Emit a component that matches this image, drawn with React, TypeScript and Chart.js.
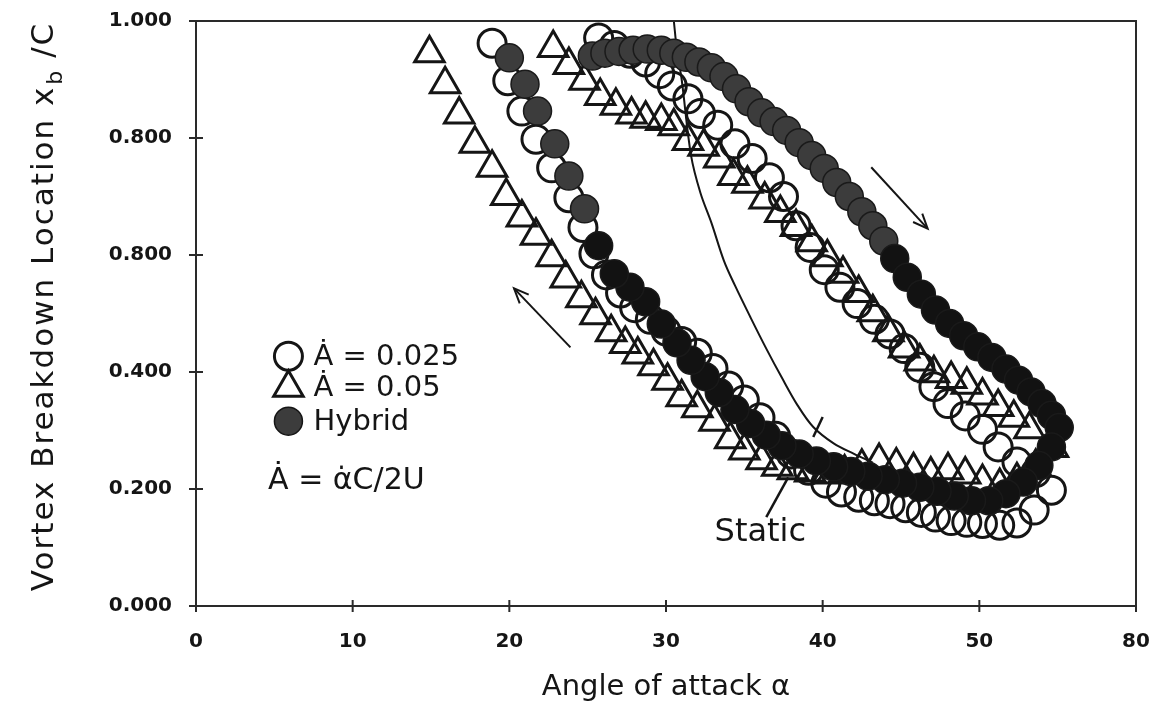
import React, { useEffect, useRef } from "react";
import { Chart, registerables } from "chart.js";

Chart.register(...registerables);

// ---- data ----
const xTickValues = [0, 10, 20, 30, 40, 50, 60];
const xTickLabels = ["0", "10", "20", "30", "40", "50", "80"];
const yTickValues = [0, 0.2, 0.4, 0.6, 0.8, 1.0];
const yTickLabels = ["0.000", "0.200", "0.400", "0.800", "0.800", "1.000"];

// Ȧ = 0.05 (open triangles), following the loop
const tri05Alpha = [
  22.8, 23.8, 24.8, 25.8, 26.8, 27.8, 28.7, 29.7, 30.5, 31.4, 32.4, 33.4, 34.3, 35.2, 36.3, 37.3, 38.3, 39.3,
  40.3, 41.3, 42.3, 43.2, 44.2, 45.2, 46.2, 47.1, 48.2, 49.2, 50.2, 51.2, 52.2, 53.2, 54.7,
  53.6, 52.4, 51.3, 50.2, 49.1, 48.0, 46.9, 45.8, 44.7, 43.6, 42.5, 41.4, 40.3, 39.2, 38.1, 37.1, 36.1, 35.0,
  34.1, 33.1, 32.0, 31.0, 30.1, 29.2, 28.2, 27.4, 26.5, 25.5, 24.6, 23.6, 22.7, 21.7, 20.8, 19.8, 18.9, 17.8,
  16.8, 15.9, 14.9,
];
const tri05Xb = [
  0.954, 0.925, 0.898, 0.872, 0.855, 0.84, 0.833, 0.829, 0.82, 0.795, 0.785, 0.765, 0.735, 0.722, 0.695, 0.672, 0.648, 0.622,
  0.596, 0.568, 0.535, 0.502, 0.468, 0.44, 0.418, 0.398, 0.388, 0.378, 0.36, 0.34, 0.322, 0.302, 0.27,
  0.238, 0.215, 0.205, 0.212, 0.225, 0.232, 0.225, 0.232, 0.24, 0.248, 0.238, 0.228, 0.225, 0.228, 0.232, 0.238, 0.249, 0.266,
  0.285, 0.315, 0.338, 0.357, 0.385, 0.41, 0.43, 0.448, 0.468, 0.497, 0.526, 0.56, 0.596, 0.633, 0.664, 0.701, 0.749, 0.79,
  0.84, 0.892, 0.945,
];

// Ȧ = 0.025 (open circles)
const circ025Alpha = [
  25.7, 26.7, 27.7, 28.7, 29.6, 30.4, 31.4, 32.2, 33.3, 34.4, 35.5, 36.6, 37.5, 38.3, 39.2, 40.1, 41.1, 42.2,
  43.3, 44.3, 45.2, 46.2, 47.1, 48.0, 49.1, 50.2, 51.2, 52.4, 53.6, 54.6,
  53.5, 52.4, 51.3, 50.2, 49.2, 48.2, 47.2, 46.3, 45.3, 44.3, 43.3, 42.3, 41.2, 40.2, 39.1, 38.0, 37.0, 36.0,
  35.0, 34.0, 33.0, 32.0, 31.0, 30.0, 29.0, 28.0, 27.1, 26.2, 25.4, 24.7, 23.8, 22.7, 21.7, 20.8, 19.9, 18.9,
];
const circ025Xb = [
  0.971, 0.958, 0.945, 0.93, 0.91, 0.889, 0.867, 0.842, 0.822, 0.79, 0.765, 0.732, 0.7, 0.65, 0.613, 0.575, 0.545, 0.517,
  0.49, 0.465, 0.44, 0.408, 0.375, 0.346, 0.325, 0.302, 0.272, 0.246, 0.228, 0.198,
  0.164, 0.142, 0.138, 0.141, 0.143, 0.146, 0.152, 0.16, 0.168, 0.175, 0.18, 0.186, 0.195, 0.21, 0.232, 0.26, 0.29, 0.322,
  0.352, 0.376, 0.406, 0.432, 0.452, 0.47, 0.49, 0.51, 0.535, 0.566, 0.602, 0.647, 0.698, 0.749, 0.798, 0.846, 0.898, 0.962,
];

// Hybrid (filled circles)
const hybridAlpha = [
  25.3, 26.1, 27.0, 27.9, 28.8, 29.7, 30.5, 31.3, 32.1, 32.9, 33.7, 34.5, 35.3, 36.1, 36.9, 37.7, 38.5, 39.3,
  40.1, 40.9, 41.7, 42.5, 43.2, 43.9, 44.6, 45.4, 46.3, 47.2, 48.1, 49.0, 49.9, 50.8, 51.7, 52.5, 53.3, 54.0,
  54.6, 55.1,
  54.6, 53.8, 52.8, 51.7, 50.6, 49.5, 48.4, 47.3, 46.2, 45.1, 44.0, 42.9, 41.8, 40.7, 39.6, 38.5, 37.4, 36.4,
  35.4, 34.4, 33.4, 32.5, 31.6, 30.7, 29.7, 28.7, 27.7, 26.7, 25.7, 24.8, 23.8, 22.9, 21.8, 21.0, 20.0,
];
const hybridXb = [
  0.94, 0.945, 0.948, 0.95, 0.952, 0.95, 0.945, 0.938, 0.93, 0.92, 0.905, 0.884, 0.862, 0.843, 0.828, 0.813, 0.792, 0.77,
  0.748, 0.724, 0.7, 0.674, 0.65, 0.624, 0.594, 0.562, 0.533, 0.506, 0.483, 0.462, 0.443, 0.425, 0.405, 0.386, 0.366, 0.346,
  0.326, 0.305,
  0.272, 0.24, 0.212, 0.192, 0.18, 0.18, 0.188, 0.196, 0.203, 0.21, 0.216, 0.222, 0.23, 0.238, 0.248, 0.26, 0.274, 0.292,
  0.312, 0.336, 0.365, 0.392, 0.42, 0.45, 0.482, 0.52, 0.545, 0.568, 0.616, 0.679, 0.735, 0.79, 0.846, 0.892, 0.937,
];

// Static curve
const staticAlpha = [30.5, 30.7, 31.0, 31.6, 32.2, 32.9, 33.7, 34.4, 35.4, 36.4, 37.4, 38.4, 39.4, 40.7, 42.0, 43.2];
const staticXb = [1.0, 0.95, 0.9, 0.77, 0.706, 0.655, 0.59, 0.548, 0.493, 0.44, 0.39, 0.343, 0.306, 0.278, 0.26, 0.245];

// annotations in data units: [alpha, xb]
const arrowDown = [[43.1, 0.75], [46.7, 0.645]];
const arrowUp = [[23.9, 0.442], [20.3, 0.543]];
const staticPointer = [[36.4, 0.152], [37.8, 0.22]];
const staticTick = [[40.0, 0.323], [39.4, 0.289]];
const staticLabelPos = [33.1, 0.125];
const legendMarkerAlpha = 5.9;
const legendTextAlpha = 7.5;
const legendRowsXb = [0.427, 0.373, 0.316];
const legendLabels = ["Ȧ = 0.025", "Ȧ = 0.05", "Hybrid"];
const formulaPos = [4.6, 0.213];
const formulaText = "Ȧ = α̇C/2U";

const FONT = '"DejaVu Sans", "Liberation Sans", sans-serif';
const INK = "#151515";
const HYBRID_GREY = "#3c3c3c";
const HYBRID_DARK = "#121212";

// plot frame in canvas pixels
const FRAME = { left: 196, top: 21, right: 1136, bottom: 606 };

function toPts(xs: number[], ys: number[]) {
  return xs.map((a, i) => ({ x: a, y: ys[i] }));
}

const overlayPlugin = {
  id: "overlay",
  afterLayout(chart: any) {
    const { left, top, right, bottom } = FRAME;
    const ca = chart.chartArea;
    ca.left = left;
    ca.top = top;
    ca.right = right;
    ca.bottom = bottom;
    ca.width = right - left;
    ca.height = bottom - top;
    const x = chart.scales.x;
    x.left = left;
    x.right = right;
    x.width = right - left;
    x.top = bottom;
    x.bottom = chart.height;
    x.height = chart.height - bottom;
    x.configure();
    const y = chart.scales.y;
    y.top = top;
    y.bottom = bottom;
    y.height = bottom - top;
    y.left = 0;
    y.right = left;
    y.width = left;
    y.configure();
  },
  afterDatasetsDraw(chart: any) {
    const { ctx, chartArea: ca } = chart;
    const xs = chart.scales.x;
    const ys = chart.scales.y;
    const px = (a: number) => xs.getPixelForValue(a);
    const py = (v: number) => ys.getPixelForValue(v);
    const line = (x1: number, y1: number, x2: number, y2: number) => {
      ctx.beginPath();
      ctx.moveTo(x1, y1);
      ctx.lineTo(x2, y2);
      ctx.stroke();
    };
    ctx.save();
    ctx.strokeStyle = "#2a2a2a";
    ctx.lineWidth = 2;
    ctx.strokeRect(ca.left, ca.top, ca.right - ca.left, ca.bottom - ca.top);
    xTickValues.forEach((v) => line(px(v), ca.bottom - 6, px(v), ca.bottom + 6));
    yTickValues.forEach((v) => line(ca.left - 7, py(v), ca.left + 7, py(v)));

    // arrows
    ctx.strokeStyle = INK;
    ctx.lineWidth = 2;
    const arrow = (seg: number[][]) => {
      const x1 = px(seg[0][0]), y1 = py(seg[0][1]);
      const x2 = px(seg[1][0]), y2 = py(seg[1][1]);
      line(x1, y1, x2, y2);
      const ang = Math.atan2(y2 - y1, x2 - x1);
      const L = 16;
      ctx.beginPath();
      ctx.moveTo(x2 - L * Math.cos(ang - 0.4), y2 - L * Math.sin(ang - 0.4));
      ctx.lineTo(x2, y2);
      ctx.lineTo(x2 - L * Math.cos(ang + 0.4), y2 - L * Math.sin(ang + 0.4));
      ctx.stroke();
    };
    arrow(arrowDown);
    arrow(arrowUp);

    // static pointer + tick
    ctx.lineWidth = 2.5;
    line(px(staticPointer[0][0]), py(staticPointer[0][1]), px(staticPointer[1][0]), py(staticPointer[1][1]));
    line(px(staticTick[0][0]), py(staticTick[0][1]), px(staticTick[1][0]), py(staticTick[1][1]));

    ctx.fillStyle = INK;
    ctx.textBaseline = "middle";
    ctx.textAlign = "left";
    ctx.font = `32px ${FONT}`;
    ctx.fillText("Static", px(staticLabelPos[0]), py(staticLabelPos[1]));

    // legend
    const mx = px(legendMarkerAlpha);
    ctx.lineWidth = 3;
    ctx.strokeStyle = INK;
    let cy = py(legendRowsXb[0]);
    ctx.beginPath();
    ctx.arc(mx, cy, 14, 0, Math.PI * 2);
    ctx.stroke();
    cy = py(legendRowsXb[1]);
    const r = 17;
    ctx.beginPath();
    ctx.moveTo(mx, cy - r);
    ctx.lineTo(mx + 0.866 * r, cy + 0.5 * r);
    ctx.lineTo(mx - 0.866 * r, cy + 0.5 * r);
    ctx.closePath();
    ctx.stroke();
    cy = py(legendRowsXb[2]);
    ctx.beginPath();
    ctx.arc(mx, cy, 14, 0, Math.PI * 2);
    ctx.fillStyle = HYBRID_GREY;
    ctx.fill();
    ctx.lineWidth = 1.5;
    ctx.stroke();

    ctx.fillStyle = INK;
    ctx.font = `29px ${FONT}`;
    legendLabels.forEach((t, i) => ctx.fillText(t, px(legendTextAlpha), py(legendRowsXb[i]) + 1));
    ctx.font = `30px ${FONT}`;
    ctx.fillText(formulaText, px(formulaPos[0]), py(formulaPos[1]));
    ctx.restore();
  },
  afterDraw(chart: any) {
    const { ctx, chartArea: ca } = chart;
    ctx.save();
    ctx.fillStyle = INK;
    (ctx as any).letterSpacing = "2px";
    ctx.font = `31px ${FONT}`;
    const main = "Vortex Breakdown Location x";
    const sub = "b";
    const rest = " /C";
    const w1 = ctx.measureText(main).width;
    ctx.font = `22px ${FONT}`;
    const ws = ctx.measureText(sub).width;
    ctx.font = `31px ${FONT}`;
    const w2 = ctx.measureText(rest).width;
    const total = w1 + ws + w2;
    ctx.translate(42, (ca.top + ca.bottom) / 2 - 7);
    ctx.rotate(-Math.PI / 2);
    ctx.textBaseline = "alphabetic";
    ctx.textAlign = "left";
    const x0 = -total / 2;
    ctx.fillText(main, x0, 11);
    ctx.font = `22px ${FONT}`;
    ctx.fillText(sub, x0 + w1 + 1, 20);
    ctx.font = `31px ${FONT}`;
    ctx.fillText(rest, x0 + w1 + ws, 11);
    ctx.restore();
  },
};

export default function App() {
  const ref = useRef<HTMLCanvasElement | null>(null);
  useEffect(() => {
    document.body.style.margin = "0";
    const canvas = ref.current;
    if (!canvas) return;
    const hybridColors = hybridAlpha.map((a, i) =>
      (i >= 24 && hybridXb[i] < 0.62) || (i >= 38 && a > 31) ? HYBRID_DARK : HYBRID_GREY
    );
    const chart = new Chart(canvas, {
      type: "scatter",
      data: {
        datasets: [
          {
            label: "Hybrid",
            data: toPts(hybridAlpha, hybridXb),
            pointStyle: "circle",
            pointRadius: 14,
            backgroundColor: hybridColors,
            borderColor: "#1a1a1a",
            borderWidth: 1.5,
            order: 0,
          },
          {
            label: "Ȧ = 0.025",
            data: toPts(circ025Alpha, circ025Xb),
            pointStyle: "circle",
            pointRadius: 14,
            backgroundColor: "rgba(0,0,0,0)",
            borderColor: INK,
            borderWidth: 3,
            order: 1,
          },
          {
            label: "Ȧ = 0.05",
            data: toPts(tri05Alpha, tri05Xb),
            pointStyle: "triangle",
            pointRadius: 17,
            backgroundColor: "rgba(0,0,0,0)",
            borderColor: INK,
            borderWidth: 3,
            order: 2,
          },
          {
            type: "line",
            label: "Static",
            data: toPts(staticAlpha, staticXb),
            borderColor: INK,
            borderWidth: 2,
            pointRadius: 0,
            tension: 0.35,
            fill: false,
            order: 3,
          } as any,
        ],
      },
      options: {
        responsive: false,
        animation: false,
        devicePixelRatio: 1,
        layout: { autoPadding: false, padding: { top: 21, right: 15, left: 0, bottom: 0 } },
        plugins: { legend: { display: false }, tooltip: { enabled: false }, title: { display: false } },
        scales: {
          x: {
            type: "linear",
            min: 0,
            max: 60,
            grid: { display: false, drawTicks: false },
            border: { display: false },
            ticks: {
              stepSize: 10,
              padding: 24,
              color: INK,
              font: { family: FONT, size: 20, weight: "bold" },
              callback: (_v: any, i: number) => xTickLabels[i],
            },
            title: {
              display: true,
              text: "Angle of attack α",
              color: INK,
              font: { family: FONT, size: 29 },
              padding: { top: 4, bottom: 10 },
            },
            afterFit: (s: any) => {
              s.height = 109;
            },
          },
          y: {
            type: "linear",
            min: 0,
            max: 1,
            grid: { display: false, drawTicks: false },
            border: { display: false },
            ticks: {
              stepSize: 0.2,
              padding: 24,
              color: INK,
              font: { family: FONT, size: 20, weight: "bold" },
              callback: (_v: any, i: number) => yTickLabels[i],
            },
            afterFit: (s: any) => {
              s.width = 196;
            },
          },
        },
      },
      plugins: [overlayPlugin],
    } as any);
    return () => chart.destroy();
  }, []);
  return <canvas ref={ref} width={1151} height={715} style={{ display: "block" }} />;
}
